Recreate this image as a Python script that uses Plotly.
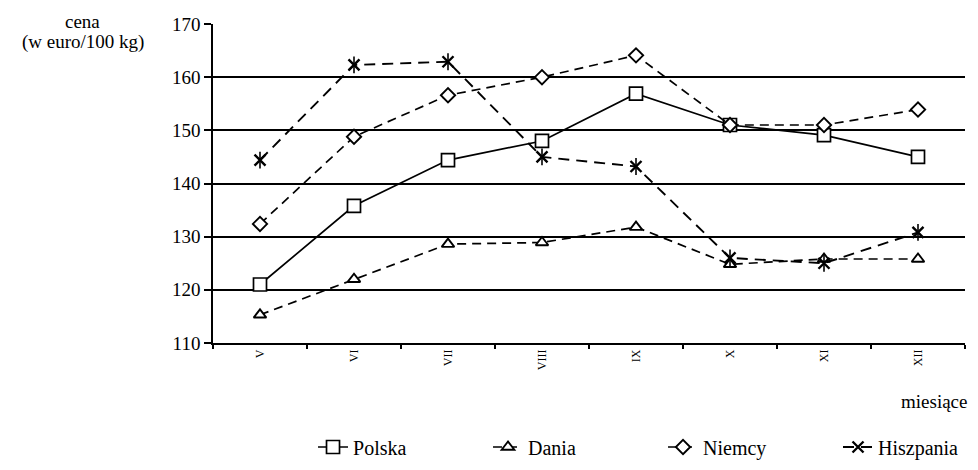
import plotly.graph_objects as go

months = ["V", "VI", "VII", "VIII", "IX", "X", "XI", "XII"]
polska = [121.0, 135.8, 144.4, 148.0, 156.9, 151.0, 149.1, 145.0]
dania = [115.3, 122.0, 128.6, 128.9, 131.8, 124.8, 125.8, 125.8]
niemcy = [132.4, 148.8, 156.6, 160.0, 164.1, 151.0, 151.0, 153.9]
hiszpania = [144.4, 162.3, 162.9, 145.0, 143.2, 126.0, 125.0, 130.8]
y_ticks = [110, 120, 130, 140, 150, 160, 170]

FONT = "Liberation Serif, Times New Roman, serif"
fig = go.Figure()

fig.add_trace(go.Scatter(
    x=months, y=polska, name="Polska", mode="lines+markers",
    line=dict(color="black", width=1.7),
    marker=dict(symbol="square", size=13, color="white", line=dict(color="black", width=1.7)),
))
fig.add_trace(go.Scatter(
    x=months, y=dania, name="Dania", mode="lines+markers",
    line=dict(color="black", width=1.7, dash="9px,6px"),
    marker=dict(symbol="triangle-up", size=11, color="white", line=dict(color="black", width=1.9)),
))
fig.add_trace(go.Scatter(
    x=months, y=niemcy, name="Niemcy", mode="lines+markers",
    line=dict(color="black", width=1.7, dash="9px,6px"),
    marker=dict(symbol="diamond", size=11, color="white", line=dict(color="black", width=1.9)),
))
fig.add_trace(go.Scatter(
    x=months, y=hiszpania, name="Hiszpania", mode="lines+markers",
    line=dict(color="black", width=1.9, dash="11px,7px"),
    marker=dict(symbol="x-thin-open", size=11, color="black", line=dict(color="black", width=2.4)),
))
fig.add_trace(go.Scatter(
    x=months, y=hiszpania, name="Hiszpania", mode="markers", showlegend=False,
    marker=dict(symbol="line-ns-open", size=12, color="black", line=dict(color="black", width=1.6)),
))

fig.update_layout(
    width=962, height=454,
    margin=dict(l=205, r=5, t=16, b=119, autoexpand=False),
    paper_bgcolor="white", plot_bgcolor="white",
    font=dict(family=FONT, color="black", size=19),
    showlegend=True,
    legend=dict(orientation="h", x=0.133, y=-0.326, xanchor="left", yanchor="middle",
                font=dict(size=20, family=FONT), entrywidth=130, entrywidthmode="pixels",
                tracegroupgap=0),
    xaxis=dict(
        type="category", categoryorder="array", categoryarray=months,
        showgrid=False, showline=True, linecolor="black", linewidth=1.6,
        ticks="outside", tickson="boundaries", ticklen=4, tickwidth=1.6, tickcolor="black",
        tickangle=-90, tickfont=dict(size=12, family=FONT),
        range=[-0.5, 7.5], zeroline=False,
    ),
    yaxis=dict(
        range=[110, 170], tickvals=y_ticks, showgrid=True, gridcolor="black", gridwidth=1.6,
        showline=True, linecolor="black", linewidth=1.6,
        ticks="outside", ticklen=7, tickwidth=1.6, tickcolor="black",
        tickfont=dict(size=19, family=FONT), zeroline=False,
    ),
    annotations=[
        dict(text="cena", xref="paper", yref="paper", x=-0.173, y=1.047, showarrow=False,
             xanchor="center", yanchor="top", font=dict(size=19, family=FONT)),
        dict(text="(w euro/100 kg)", xref="paper", yref="paper", x=-0.173, y=0.944, showarrow=False,
             xanchor="center", yanchor="middle", font=dict(size=19, family=FONT)),
        dict(text="miesiące", xref="paper", yref="paper", x=1.005, y=-0.182, showarrow=False,
             xanchor="right", yanchor="middle", font=dict(size=19, family=FONT)),
    ],
)

fig.write_html("out.html")
